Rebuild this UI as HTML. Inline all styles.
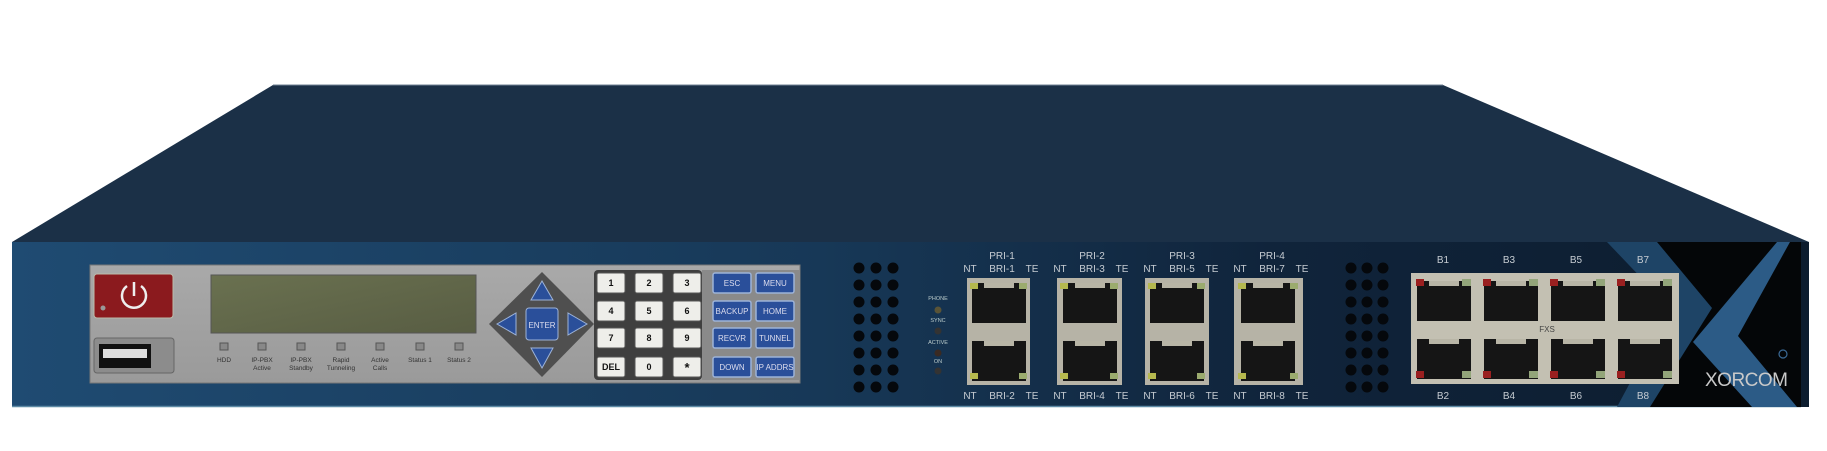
<!DOCTYPE html>
<html><head><meta charset="utf-8"><style>
html,body{margin:0;padding:0;background:#fff;}
svg{display:block;}
text{font-family:"Liberation Sans",sans-serif;}
</style></head><body>
<svg width="1827" height="451" viewBox="0 0 1827 451" xmlns="http://www.w3.org/2000/svg">
<defs>
<linearGradient id="front" x1="0" x2="1" y1="0" y2="0">
<stop offset="0" stop-color="#1f4b72"/><stop offset="0.45" stop-color="#173857"/><stop offset="0.7" stop-color="#10243b"/><stop offset="1" stop-color="#0c1c2e"/>
</linearGradient>
<linearGradient id="panel" x1="0" x2="0" y1="0" y2="1"><stop offset="0" stop-color="#a9a9a9"/><stop offset="1" stop-color="#9a9a9a"/></linearGradient>
<linearGradient id="lcd" x1="0" x2="1" y1="0" y2="1"><stop offset="0" stop-color="#6a7150"/><stop offset="1" stop-color="#585d43"/></linearGradient>
<g id="jack"><rect x="0" y="0" width="54" height="40" fill="#151515"/><rect x="12" y="0" width="30" height="5" fill="#b8b5a6"/></g>
<g id="key"><rect x="-14" y="-10" width="28" height="20" rx="2" fill="#eeeeea" stroke="#555" stroke-width="1"/></g>
<g id="bkey"><rect x="-19" y="-10" width="38" height="20" rx="2" fill="#2a4f9a" stroke="#9db3d8" stroke-width="1.5"/></g>
<g id="vent"><circle r="5.5" fill="#05080c"/></g>
<g id="led"><rect x="-4" y="-4" width="8" height="7" fill="#888" stroke="#555" stroke-width="1"/></g>
</defs>
<!-- lid -->
<polygon points="12,242 273,85 1443,85 1809,242" fill="#1b3047"/>
<line x1="273" y1="85" x2="1443" y2="85" stroke="#6f8093" stroke-width="1"/>
<!-- front -->
<rect x="12" y="242" width="1797" height="165" fill="url(#front)"/>
<line x1="12" y1="406.5" x2="1801" y2="406.5" stroke="#5d8aa5" stroke-width="1.5"/>
<!-- right logo area -->
<polygon points="1657,242 1801,242 1801,407 1640,407 1712,308" fill="#040608"/>
<polygon points="1607,242 1657,242 1712,308 1650,407 1617,407 1670,308" fill="#1e4466"/>
<polygon points="1777,242 1790,242 1738,336 1797,407 1752,407 1693,342" fill="#2c5b86"/>
<text x="1705" y="386" font-size="19" fill="#c9c9c9" letter-spacing="-0.5">XORCOM</text>
<circle cx="1783" cy="354" r="4" fill="none" stroke="#3b6a96" stroke-width="1.2"/>

<!-- left panel -->
<rect x="90" y="265" width="710" height="118" fill="url(#panel)" stroke="#777" stroke-width="1"/>
<rect x="94" y="274" width="79" height="44" rx="3" fill="#8b1a1e" stroke="#bba" stroke-width="1"/>
<path d="M127,286 A12,12 0 1 0 141,286" fill="none" stroke="#eee" stroke-width="2.5"/>
<line x1="134" y1="282" x2="134" y2="296" stroke="#eee" stroke-width="2.5"/>
<circle cx="103" cy="308" r="2.5" fill="#999"/>
<rect x="94" y="338" width="80" height="35" rx="3" fill="#8c8c8c" stroke="#666"/>
<rect x="99" y="344" width="52" height="24" fill="#111"/>
<rect x="103" y="349" width="44" height="9" fill="#ddd"/>
<rect x="211" y="275" width="265" height="58" fill="url(#lcd)" stroke="#555"/>
<use href="#led" x="224" y="347"/><use href="#led" x="262" y="347"/><use href="#led" x="301" y="347"/><use href="#led" x="341" y="347"/><use href="#led" x="380" y="347"/><use href="#led" x="420" y="347"/><use href="#led" x="459" y="347"/>
<g font-size="6.5" fill="#333" text-anchor="middle">
<text x="224" y="362">HDD</text>
<text x="262" y="362">IP-PBX</text><text x="262" y="370">Active</text>
<text x="301" y="362">IP-PBX</text><text x="301" y="370">Standby</text>
<text x="341" y="362">Rapid</text><text x="341" y="370">Tunneling</text>
<text x="380" y="362">Active</text><text x="380" y="370">Calls</text>
<text x="420" y="362">Status 1</text>
<text x="459" y="362">Status 2</text>
</g>
<!-- dpad -->
<polygon points="542,272 594,324 542,377 489,324" fill="#4f4f4f"/>
<polygon points="542,281 553,300 531,300" fill="#2a4f9a" stroke="#9db3d8"/>
<polygon points="542,368 553,348 531,348" fill="#2a4f9a" stroke="#9db3d8"/>
<polygon points="497,324 516,313 516,335" fill="#2a4f9a" stroke="#9db3d8"/>
<polygon points="587,324 568,313 568,335" fill="#2a4f9a" stroke="#9db3d8"/>
<rect x="526" y="308" width="32" height="32" rx="3" fill="#2a4f9a" stroke="#9db3d8"/>
<text x="542" y="328" font-size="8" fill="#dde" text-anchor="middle">ENTER</text>
<!-- keypad -->
<rect x="594" y="270" width="108" height="110" rx="4" fill="#3f3f3f"/>
<rect x="702" y="270" width="98" height="110" fill="#8a8a8a"/>
<g font-size="9" font-weight="bold" fill="#111" text-anchor="middle">
<use href="#key" x="611" y="283"/><use href="#key" x="649" y="283"/><use href="#key" x="687" y="283"/>
<use href="#key" x="611" y="311"/><use href="#key" x="649" y="311"/><use href="#key" x="687" y="311"/>
<use href="#key" x="611" y="338"/><use href="#key" x="649" y="338"/><use href="#key" x="687" y="338"/>
<use href="#key" x="611" y="367"/><use href="#key" x="649" y="367"/><use href="#key" x="687" y="367"/>
<text x="611" y="286">1</text><text x="649" y="286">2</text><text x="687" y="286">3</text>
<text x="611" y="314">4</text><text x="649" y="314">5</text><text x="687" y="314">6</text>
<text x="611" y="341">7</text><text x="649" y="341">8</text><text x="687" y="341">9</text>
<text x="611" y="370">DEL</text><text x="649" y="370">0</text><text x="687" y="372" font-size="13">*</text>
</g>
<g font-size="8" fill="#dde" text-anchor="middle">
<use href="#bkey" x="732" y="283"/><use href="#bkey" x="775" y="283"/>
<use href="#bkey" x="732" y="311"/><use href="#bkey" x="775" y="311"/>
<use href="#bkey" x="732" y="338"/><use href="#bkey" x="775" y="338"/>
<use href="#bkey" x="732" y="367"/><use href="#bkey" x="775" y="367"/>
<text x="732" y="286">ESC</text><text x="775" y="286">MENU</text>
<text x="732" y="314">BACKUP</text><text x="775" y="314">HOME</text>
<text x="732" y="341">RECVR</text><text x="775" y="341">TUNNEL</text>
<text x="732" y="370">DOWN</text><text x="775" y="370">IP ADDRS</text>
</g>
<!-- vents -->
<g>
<use href="#vent" x="859" y="268"/><use href="#vent" x="876" y="268"/><use href="#vent" x="893" y="268"/>
<use href="#vent" x="859" y="285"/><use href="#vent" x="876" y="285"/><use href="#vent" x="893" y="285"/>
<use href="#vent" x="859" y="302"/><use href="#vent" x="876" y="302"/><use href="#vent" x="893" y="302"/>
<use href="#vent" x="859" y="319"/><use href="#vent" x="876" y="319"/><use href="#vent" x="893" y="319"/>
<use href="#vent" x="859" y="336"/><use href="#vent" x="876" y="336"/><use href="#vent" x="893" y="336"/>
<use href="#vent" x="859" y="353"/><use href="#vent" x="876" y="353"/><use href="#vent" x="893" y="353"/>
<use href="#vent" x="859" y="370"/><use href="#vent" x="876" y="370"/><use href="#vent" x="893" y="370"/>
<use href="#vent" x="859" y="387"/><use href="#vent" x="876" y="387"/><use href="#vent" x="893" y="387"/>
<use href="#vent" x="1351" y="268"/><use href="#vent" x="1367" y="268"/><use href="#vent" x="1383" y="268"/>
<use href="#vent" x="1351" y="285"/><use href="#vent" x="1367" y="285"/><use href="#vent" x="1383" y="285"/>
<use href="#vent" x="1351" y="302"/><use href="#vent" x="1367" y="302"/><use href="#vent" x="1383" y="302"/>
<use href="#vent" x="1351" y="319"/><use href="#vent" x="1367" y="319"/><use href="#vent" x="1383" y="319"/>
<use href="#vent" x="1351" y="336"/><use href="#vent" x="1367" y="336"/><use href="#vent" x="1383" y="336"/>
<use href="#vent" x="1351" y="353"/><use href="#vent" x="1367" y="353"/><use href="#vent" x="1383" y="353"/>
<use href="#vent" x="1351" y="370"/><use href="#vent" x="1367" y="370"/><use href="#vent" x="1383" y="370"/>
<use href="#vent" x="1351" y="387"/><use href="#vent" x="1367" y="387"/><use href="#vent" x="1383" y="387"/>
</g>
<!-- status leds -->
<g font-size="5.5" fill="#bcc" text-anchor="middle">
<text x="938" y="300">PHONE</text><circle cx="938" cy="310" r="3.5" fill="#5a5437"/>
<text x="938" y="322">SYNC</text><circle cx="938" cy="331" r="3.5" fill="#333"/>
<text x="938" y="344">ACTIVE</text><circle cx="938" cy="353" r="3.5" fill="#3a2a22"/>
<text x="938" y="363">ON</text><circle cx="938" cy="371" r="3.5" fill="#333"/>
</g>
<!-- PRI/BRI modules -->
<g fill="#b6b3a6">
<rect x="967" y="278" width="63" height="107"/>
<rect x="1057" y="278" width="65" height="107"/>
<rect x="1145" y="278" width="64" height="107"/>
<rect x="1234" y="278" width="69" height="107"/>
</g>
<use href="#jack" x="972" y="283"/><use href="#jack" x="972" y="341"/>
<use href="#jack" x="1063" y="283"/><use href="#jack" x="1063" y="341"/>
<use href="#jack" x="1150" y="283"/><use href="#jack" x="1150" y="341"/>
<use href="#jack" x="1241" y="283"/><use href="#jack" x="1241" y="341"/>
<g fill="#b5b84e">
<rect x="970" y="283" width="8" height="6"/><rect x="1019" y="283" width="8" height="6" fill="#9bab6e"/><rect x="970" y="373" width="8" height="6"/><rect x="1019" y="373" width="8" height="6" fill="#9bab6e"/>
<rect x="1060" y="283" width="8" height="6"/><rect x="1110" y="283" width="8" height="6" fill="#9bab6e"/><rect x="1060" y="373" width="8" height="6"/><rect x="1110" y="373" width="8" height="6" fill="#9bab6e"/>
<rect x="1148" y="283" width="8" height="6"/><rect x="1197" y="283" width="8" height="6" fill="#9bab6e"/><rect x="1148" y="373" width="8" height="6"/><rect x="1197" y="373" width="8" height="6" fill="#9bab6e"/>
<rect x="1238" y="283" width="8" height="6"/><rect x="1290" y="283" width="8" height="6" fill="#9bab6e"/><rect x="1238" y="373" width="8" height="6"/><rect x="1290" y="373" width="8" height="6" fill="#9bab6e"/>
</g>
<g font-size="10" fill="#c6ccd2" text-anchor="middle">
<text x="1002" y="259">PRI-1</text><text x="1092" y="259">PRI-2</text><text x="1182" y="259">PRI-3</text><text x="1272" y="259">PRI-4</text>
<text x="970" y="272">NT</text><text x="1002" y="272">BRI-1</text><text x="1032" y="272">TE</text>
<text x="1060" y="272">NT</text><text x="1092" y="272">BRI-3</text><text x="1122" y="272">TE</text>
<text x="1150" y="272">NT</text><text x="1182" y="272">BRI-5</text><text x="1212" y="272">TE</text>
<text x="1240" y="272">NT</text><text x="1272" y="272">BRI-7</text><text x="1302" y="272">TE</text>
<text x="970" y="399">NT</text><text x="1002" y="399">BRI-2</text><text x="1032" y="399">TE</text>
<text x="1060" y="399">NT</text><text x="1092" y="399">BRI-4</text><text x="1122" y="399">TE</text>
<text x="1150" y="399">NT</text><text x="1182" y="399">BRI-6</text><text x="1212" y="399">TE</text>
<text x="1240" y="399">NT</text><text x="1272" y="399">BRI-8</text><text x="1302" y="399">TE</text>
</g>
<!-- FXS -->
<rect x="1411" y="273" width="268" height="111" fill="#c3c0b2"/>
<use href="#jack" x="1417" y="281"/><use href="#jack" x="1484" y="281"/><use href="#jack" x="1551" y="281"/><use href="#jack" x="1618" y="281"/>
<use href="#jack" x="1417" y="339"/><use href="#jack" x="1484" y="339"/><use href="#jack" x="1551" y="339"/><use href="#jack" x="1618" y="339"/>
<g fill="#9a2020">
<rect x="1416" y="279" width="8" height="7"/><rect x="1483" y="279" width="8" height="7"/><rect x="1550" y="279" width="8" height="7"/><rect x="1617" y="279" width="8" height="7"/>
<rect x="1416" y="371" width="8" height="7"/><rect x="1483" y="371" width="8" height="7"/><rect x="1550" y="371" width="8" height="7"/><rect x="1617" y="371" width="8" height="7"/>
</g>
<g fill="#93a57a">
<rect x="1462" y="279" width="9" height="7"/><rect x="1529" y="279" width="9" height="7"/><rect x="1596" y="279" width="9" height="7"/><rect x="1663" y="279" width="9" height="7"/>
<rect x="1462" y="371" width="9" height="7"/><rect x="1529" y="371" width="9" height="7"/><rect x="1596" y="371" width="9" height="7"/><rect x="1663" y="371" width="9" height="7"/>
</g>
<text x="1547" y="332" font-size="8" fill="#444" text-anchor="middle">FXS</text>
<g font-size="10" fill="#c6ccd2" text-anchor="middle">
<text x="1443" y="263">B1</text><text x="1509" y="263">B3</text><text x="1576" y="263">B5</text><text x="1643" y="263">B7</text>
<text x="1443" y="399">B2</text><text x="1509" y="399">B4</text><text x="1576" y="399">B6</text><text x="1643" y="399">B8</text>
</g>
</svg>
</body></html>
